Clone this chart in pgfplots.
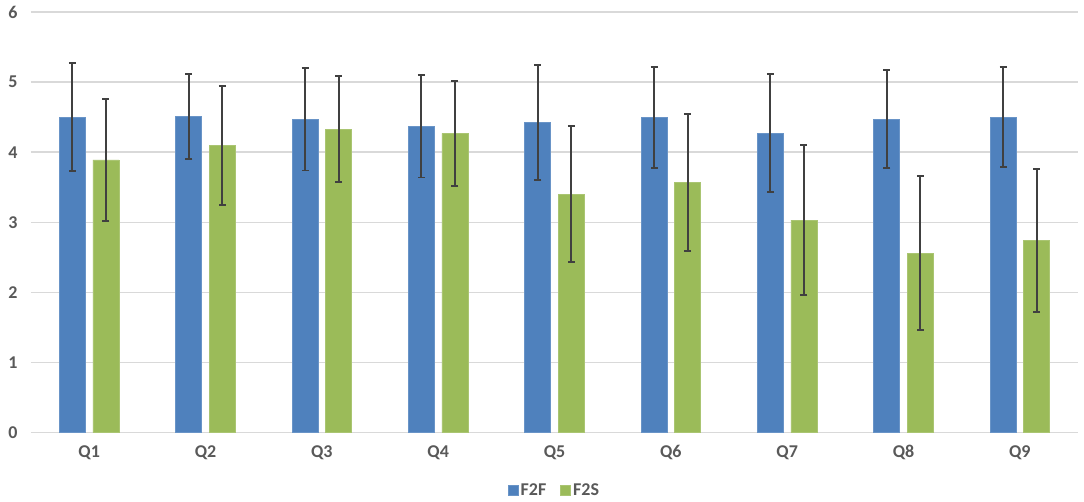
\documentclass[border=0pt]{standalone}
\usepackage{pgfplots}
\pgfplotsset{compat=1.18}
\usepackage{fontspec}
\setmainfont{Carlito}
\definecolor{cblue}{HTML}{4F81BD}
\definecolor{cgreen}{HTML}{9BBB59}
\definecolor{cgrid}{HTML}{D9D9D9}
\definecolor{ctext}{HTML}{595959}
\definecolor{cerr}{HTML}{404040}
\begin{document}
\begin{tikzpicture}
\useasboundingbox (0,0) rectangle (1084pt,502pt);
\begin{axis}[
  at={(31pt,69.3pt)}, anchor=south west,
  scale only axis, width=1047pt, height=420.7pt,
  ybar=7.5pt, bar width=26pt,
  xmin=-0.5, xmax=8.5, ymin=0, ymax=6,
  xtick={0,...,8}, xticklabels={Q1,Q2,Q3,Q4,Q5,Q6,Q7,Q8,Q9},
  ytick={0,...,6}, yticklabels={0,1,2,3,4,5,6},
  major tick length=0pt,
  axis line style={draw=none},
  ymajorgrids, grid style={cgrid, line width=1.5pt},
  ticklabel style={font=\fontsize{18}{20}\selectfont\bfseries, text=ctext},
  xticklabel style={yshift=-9pt},
  yticklabel style={xshift=-10pt},
  legend style={at={(0.5,-0.1362)}, anchor=center, draw=none, legend columns=2,
    font=\fontsize{18}{20}\selectfont\bfseries, text=ctext,
    /tikz/every even column/.append style={column sep=12pt}},
  legend image code/.code={\fill[#1] (0pt,-5pt) rectangle (10pt,5pt);},
  error bars/y dir=both, error bars/y explicit,
  error bars/error bar style={cerr, line width=1.9pt},
  error bars/error mark options={cerr, line width=1.9pt, mark size=3.5pt, rotate=90},
]
\addplot[fill=cblue, draw=cblue!85!white, line width=0.8pt] coordinates {
 (0,4.50) +- (0,0.77)
 (1,4.51) +- (0,0.61)
 (2,4.47) +- (0,0.73)
 (3,4.37) +- (0,0.73)
 (4,4.43) +- (0,0.82)
 (5,4.50) +- (0,0.72)
 (6,4.27) +- (0,0.84)
 (7,4.47) +- (0,0.70)
 (8,4.50) +- (0,0.71)
};
\addplot[fill=cgreen, draw=cgreen!85!white, line width=0.8pt] coordinates {
 (0,3.89) +- (0,0.875)
 (1,4.10) +- (0,0.85)
 (2,4.33) +- (0,0.76)
 (3,4.27) +- (0,0.75)
 (4,3.40) +- (0,0.97)
 (5,3.57) +- (0,0.98)
 (6,3.03) +- (0,1.07)
 (7,2.56) +- (0,1.10)
 (8,2.74) +- (0,1.02)
};
\legend{F2F,F2S}
\end{axis}
\end{tikzpicture}
\end{document}
